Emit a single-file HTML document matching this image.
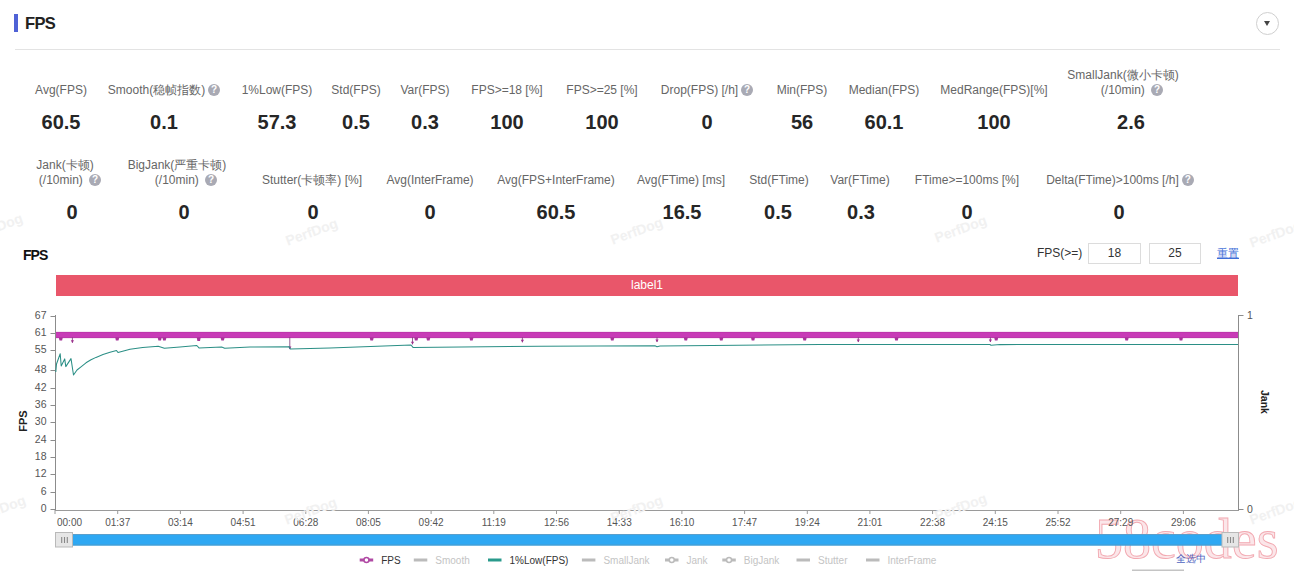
<!DOCTYPE html>
<html><head><meta charset="utf-8">
<style>
html,body{margin:0;padding:0;background:#fff;}
body{width:1294px;height:571px;position:relative;overflow:hidden;font-family:"Liberation Sans",sans-serif;}
.a{position:absolute;white-space:nowrap;}
.lb{position:absolute;white-space:nowrap;font-size:12px;line-height:15px;color:#666;width:240px;text-align:center;}
.vl{position:absolute;white-space:nowrap;font-size:20px;line-height:24px;font-weight:bold;color:#262626;width:200px;text-align:center;}
.q{display:inline-block;width:12px;height:12px;border-radius:50%;background:#a9aab4;color:#fff;font-size:10px;line-height:12px;text-align:center;font-weight:bold;vertical-align:1px;margin-left:3px;}
</style></head><body>

<!-- header -->
<div class="a" style="left:14px;top:14px;width:4px;height:18px;background:#4f62d6;"></div>
<div class="a" style="left:25px;top:12px;font-size:16.5px;line-height:22px;font-weight:bold;color:#222;letter-spacing:-0.7px;">FPS</div>
<div class="a" style="left:1256px;top:12px;width:21px;height:21px;border:1px solid #cfcfcf;border-radius:50%;"></div>
<div class="a" style="left:1264px;top:21px;width:0;height:0;border-left:3.5px solid transparent;border-right:3.5px solid transparent;border-top:5px solid #444;"></div>
<div class="a" style="left:15px;top:49px;width:1265px;height:1px;background:#e3e3e3;"></div>

<!-- row 1 labels -->
<div class="lb" style="left:-59px;top:83px;">Avg(FPS)</div>
<div class="lb" style="left:44px;top:83px;">Smooth(稳帧指数)<span class="q">?</span></div>
<div class="lb" style="left:157px;top:83px;">1%Low(FPS)</div>
<div class="lb" style="left:236px;top:83px;">Std(FPS)</div>
<div class="lb" style="left:305px;top:83px;">Var(FPS)</div>
<div class="lb" style="left:387px;top:83px;">FPS&gt;=18 [%]</div>
<div class="lb" style="left:482px;top:83px;">FPS&gt;=25 [%]</div>
<div class="lb" style="left:587px;top:83px;">Drop(FPS) [/h]<span class="q">?</span></div>
<div class="lb" style="left:682px;top:83px;">Min(FPS)</div>
<div class="lb" style="left:764px;top:83px;">Median(FPS)</div>
<div class="lb" style="left:874px;top:83px;">MedRange(FPS)[%]</div>
<div class="lb" style="left:1003px;top:68px;">SmallJank(微小卡顿)</div>
<div class="lb" style="left:1012px;top:83px;">(/10min) <span class="q">?</span></div>

<!-- row 1 values -->
<div class="vl" style="left:-39px;top:110px;">60.5</div>
<div class="vl" style="left:64px;top:110px;">0.1</div>
<div class="vl" style="left:177px;top:110px;">57.3</div>
<div class="vl" style="left:256px;top:110px;">0.5</div>
<div class="vl" style="left:325px;top:110px;">0.3</div>
<div class="vl" style="left:407px;top:110px;">100</div>
<div class="vl" style="left:502px;top:110px;">100</div>
<div class="vl" style="left:607px;top:110px;">0</div>
<div class="vl" style="left:702px;top:110px;">56</div>
<div class="vl" style="left:784px;top:110px;">60.1</div>
<div class="vl" style="left:894px;top:110px;">100</div>
<div class="vl" style="left:1031px;top:110px;">2.6</div>

<!-- row 2 labels -->
<div class="lb" style="left:-55px;top:158px;">Jank(卡顿)</div>
<div class="lb" style="left:-50px;top:173px;">(/10min) <span class="q">?</span></div>
<div class="lb" style="left:57px;top:158px;">BigJank(严重卡顿)</div>
<div class="lb" style="left:66px;top:173px;">(/10min) <span class="q">?</span></div>
<div class="lb" style="left:192px;top:173px;">Stutter(卡顿率) [%]</div>
<div class="lb" style="left:310px;top:173px;">Avg(InterFrame)</div>
<div class="lb" style="left:436px;top:173px;">Avg(FPS+InterFrame)</div>
<div class="lb" style="left:561px;top:173px;">Avg(FTime) [ms]</div>
<div class="lb" style="left:659px;top:173px;">Std(FTime)</div>
<div class="lb" style="left:740px;top:173px;">Var(FTime)</div>
<div class="lb" style="left:847px;top:173px;">FTime&gt;=100ms [%]</div>
<div class="lb" style="left:1000px;top:173px;">Delta(FTime)&gt;100ms [/h]<span class="q">?</span></div>

<!-- row 2 values -->
<div class="vl" style="left:-28px;top:200px;">0</div>
<div class="vl" style="left:84px;top:200px;">0</div>
<div class="vl" style="left:213px;top:200px;">0</div>
<div class="vl" style="left:330px;top:200px;">0</div>
<div class="vl" style="left:456px;top:200px;">60.5</div>
<div class="vl" style="left:582px;top:200px;">16.5</div>
<div class="vl" style="left:678px;top:200px;">0.5</div>
<div class="vl" style="left:761px;top:200px;">0.3</div>
<div class="vl" style="left:867px;top:200px;">0</div>
<div class="vl" style="left:1019px;top:200px;">0</div>

<!-- chart header -->
<div class="a" style="left:23px;top:245.5px;font-size:14px;line-height:18px;font-weight:bold;color:#111;letter-spacing:-1px;">FPS</div>
<div class="a" style="left:1037px;top:246px;font-size:12px;line-height:15px;color:#333;">FPS(&gt;=)</div>
<div class="a" style="left:1088px;top:243px;width:51px;height:19px;border:1px solid #dcdcdc;font-size:12px;line-height:19px;text-align:center;color:#333;">18</div>
<div class="a" style="left:1149px;top:243px;width:50px;height:19px;border:1px solid #dcdcdc;font-size:12px;line-height:19px;text-align:center;color:#333;">25</div>
<div class="a" style="left:1217px;top:246px;font-size:10.5px;line-height:15px;color:#3f6fd8;text-decoration:underline;">重置</div>

<!-- label bar -->
<div class="a" style="left:56px;top:275px;width:1182px;height:21px;background:#e9566a;color:#fff;font-size:12px;line-height:21px;text-align:center;">label1</div>

<svg class="a" style="left:0;top:0" width="1294" height="571" viewBox="0 0 1294 571" font-family="Liberation Sans, sans-serif">
<text x="1095" y="557.5" font-size="56" font-family="Liberation Serif, serif" fill="#fbe6e9" stroke="#f2a9b1" stroke-width="0.9">58codes</text>
<line x1="55.5" y1="315" x2="55.5" y2="510" stroke="#8c8c8c" stroke-width="1"/>
<line x1="1238.5" y1="315" x2="1238.5" y2="510" stroke="#8c8c8c" stroke-width="1"/>
<line x1="55" y1="510.5" x2="1239" y2="510.5" stroke="#9a9a9a" stroke-width="1"/>
<line x1="50.5" y1="509.5" x2="55.5" y2="509.5" stroke="#8c8c8c"/>
<text x="46.5" y="512.3" font-size="10.5" fill="#555" text-anchor="end">0</text>
<line x1="50.5" y1="492.5" x2="55.5" y2="492.5" stroke="#8c8c8c"/>
<text x="46.5" y="495.3" font-size="10.5" fill="#555" text-anchor="end">6</text>
<line x1="50.5" y1="474.5" x2="55.5" y2="474.5" stroke="#8c8c8c"/>
<text x="46.5" y="477.3" font-size="10.5" fill="#555" text-anchor="end">12</text>
<line x1="50.5" y1="457.5" x2="55.5" y2="457.5" stroke="#8c8c8c"/>
<text x="46.5" y="460.3" font-size="10.5" fill="#555" text-anchor="end">18</text>
<line x1="50.5" y1="440.5" x2="55.5" y2="440.5" stroke="#8c8c8c"/>
<text x="46.5" y="443.3" font-size="10.5" fill="#555" text-anchor="end">24</text>
<line x1="50.5" y1="422.5" x2="55.5" y2="422.5" stroke="#8c8c8c"/>
<text x="46.5" y="425.3" font-size="10.5" fill="#555" text-anchor="end">30</text>
<line x1="50.5" y1="405.5" x2="55.5" y2="405.5" stroke="#8c8c8c"/>
<text x="46.5" y="408.3" font-size="10.5" fill="#555" text-anchor="end">36</text>
<line x1="50.5" y1="388.5" x2="55.5" y2="388.5" stroke="#8c8c8c"/>
<text x="46.5" y="391.3" font-size="10.5" fill="#555" text-anchor="end">42</text>
<line x1="50.5" y1="370.5" x2="55.5" y2="370.5" stroke="#8c8c8c"/>
<text x="46.5" y="373.3" font-size="10.5" fill="#555" text-anchor="end">48</text>
<line x1="50.5" y1="350.5" x2="55.5" y2="350.5" stroke="#8c8c8c"/>
<text x="46.5" y="353.3" font-size="10.5" fill="#555" text-anchor="end">55</text>
<line x1="50.5" y1="333.5" x2="55.5" y2="333.5" stroke="#8c8c8c"/>
<text x="46.5" y="336.3" font-size="10.5" fill="#555" text-anchor="end">61</text>
<line x1="50.5" y1="316.5" x2="55.5" y2="316.5" stroke="#8c8c8c"/>
<text x="46.5" y="319.3" font-size="10.5" fill="#555" text-anchor="end">67</text>
<line x1="1238.5" y1="315.5" x2="1243.5" y2="315.5" stroke="#8c8c8c"/>
<text x="1247" y="319.1" font-size="10.5" fill="#555">1</text>
<line x1="1238.5" y1="509.5" x2="1243.5" y2="509.5" stroke="#8c8c8c"/>
<text x="1247" y="513.1" font-size="10.5" fill="#555">0</text>
<text transform="translate(26.5,421) rotate(-90)" font-size="11" font-weight="bold" fill="#222" text-anchor="middle">FPS</text>
<text transform="translate(1261,402) rotate(90)" font-size="10.5" font-weight="bold" fill="#222" text-anchor="middle">Jank</text>
<line x1="55.0" y1="510" x2="55.0" y2="514" stroke="#9a9a9a"/>
<text x="57" y="525.5" font-size="10" fill="#555">00:00</text>
<line x1="117.7" y1="510" x2="117.7" y2="514" stroke="#9a9a9a"/>
<text x="117.7" y="525.5" font-size="10" fill="#555" text-anchor="middle">01:37</text>
<line x1="180.4" y1="510" x2="180.4" y2="514" stroke="#9a9a9a"/>
<text x="180.4" y="525.5" font-size="10" fill="#555" text-anchor="middle">03:14</text>
<line x1="243.1" y1="510" x2="243.1" y2="514" stroke="#9a9a9a"/>
<text x="243.1" y="525.5" font-size="10" fill="#555" text-anchor="middle">04:51</text>
<line x1="305.8" y1="510" x2="305.8" y2="514" stroke="#9a9a9a"/>
<text x="305.8" y="525.5" font-size="10" fill="#555" text-anchor="middle">06:28</text>
<line x1="368.4" y1="510" x2="368.4" y2="514" stroke="#9a9a9a"/>
<text x="368.4" y="525.5" font-size="10" fill="#555" text-anchor="middle">08:05</text>
<line x1="431.1" y1="510" x2="431.1" y2="514" stroke="#9a9a9a"/>
<text x="431.1" y="525.5" font-size="10" fill="#555" text-anchor="middle">09:42</text>
<line x1="493.8" y1="510" x2="493.8" y2="514" stroke="#9a9a9a"/>
<text x="493.8" y="525.5" font-size="10" fill="#555" text-anchor="middle">11:19</text>
<line x1="556.5" y1="510" x2="556.5" y2="514" stroke="#9a9a9a"/>
<text x="556.5" y="525.5" font-size="10" fill="#555" text-anchor="middle">12:56</text>
<line x1="619.2" y1="510" x2="619.2" y2="514" stroke="#9a9a9a"/>
<text x="619.2" y="525.5" font-size="10" fill="#555" text-anchor="middle">14:33</text>
<line x1="681.9" y1="510" x2="681.9" y2="514" stroke="#9a9a9a"/>
<text x="681.9" y="525.5" font-size="10" fill="#555" text-anchor="middle">16:10</text>
<line x1="744.6" y1="510" x2="744.6" y2="514" stroke="#9a9a9a"/>
<text x="744.6" y="525.5" font-size="10" fill="#555" text-anchor="middle">17:47</text>
<line x1="807.3" y1="510" x2="807.3" y2="514" stroke="#9a9a9a"/>
<text x="807.3" y="525.5" font-size="10" fill="#555" text-anchor="middle">19:24</text>
<line x1="869.9" y1="510" x2="869.9" y2="514" stroke="#9a9a9a"/>
<text x="869.9" y="525.5" font-size="10" fill="#555" text-anchor="middle">21:01</text>
<line x1="932.6" y1="510" x2="932.6" y2="514" stroke="#9a9a9a"/>
<text x="932.6" y="525.5" font-size="10" fill="#555" text-anchor="middle">22:38</text>
<line x1="995.3" y1="510" x2="995.3" y2="514" stroke="#9a9a9a"/>
<text x="995.3" y="525.5" font-size="10" fill="#555" text-anchor="middle">24:15</text>
<line x1="1058.0" y1="510" x2="1058.0" y2="514" stroke="#9a9a9a"/>
<text x="1058.0" y="525.5" font-size="10" fill="#555" text-anchor="middle">25:52</text>
<line x1="1120.7" y1="510" x2="1120.7" y2="514" stroke="#9a9a9a"/>
<text x="1120.7" y="525.5" font-size="10" fill="#555" text-anchor="middle">27:29</text>
<line x1="1183.4" y1="510" x2="1183.4" y2="514" stroke="#9a9a9a"/>
<text x="1183.4" y="525.5" font-size="10" fill="#555" text-anchor="middle">29:06</text>
<text transform="translate(312,233) rotate(-20)" font-size="14" font-weight="bold" fill="#f1f1f1" text-anchor="middle" dominant-baseline="middle">PerfDog</text>
<text transform="translate(637,232) rotate(-20)" font-size="14" font-weight="bold" fill="#f1f1f1" text-anchor="middle" dominant-baseline="middle">PerfDog</text>
<text transform="translate(961,230) rotate(-20)" font-size="14" font-weight="bold" fill="#f1f1f1" text-anchor="middle" dominant-baseline="middle">PerfDog</text>
<text transform="translate(1276,235) rotate(-20)" font-size="14" font-weight="bold" fill="#f1f1f1" text-anchor="middle" dominant-baseline="middle">PerfDog</text>
<text transform="translate(-3,228) rotate(-20)" font-size="14" font-weight="bold" fill="#f1f1f1" text-anchor="middle" dominant-baseline="middle">PerfDog</text>
<text transform="translate(311,512) rotate(-20)" font-size="14" font-weight="bold" fill="#f1f1f1" text-anchor="middle" dominant-baseline="middle">PerfDog</text>
<text transform="translate(637,510) rotate(-20)" font-size="14" font-weight="bold" fill="#f1f1f1" text-anchor="middle" dominant-baseline="middle">PerfDog</text>
<text transform="translate(961,508) rotate(-20)" font-size="14" font-weight="bold" fill="#f1f1f1" text-anchor="middle" dominant-baseline="middle">PerfDog</text>
<text transform="translate(1276,512) rotate(-20)" font-size="14" font-weight="bold" fill="#f1f1f1" text-anchor="middle" dominant-baseline="middle">PerfDog</text>
<text transform="translate(0,510) rotate(-20)" font-size="14" font-weight="bold" fill="#f1f1f1" text-anchor="middle" dominant-baseline="middle">PerfDog</text>
<rect x="56" y="332" width="1182" height="6" fill="#c83bb7"/>
<line x1="56" y1="332.3" x2="1238" y2="332.3" stroke="#b2349f" stroke-width="0.6"/>
<line x1="56" y1="337.7" x2="1238" y2="337.7" stroke="#b2349f" stroke-width="0.6"/>
<path d="M58.8,337.5 L62.8,337.5 L62.099999999999994,340.5 L59.5,340.5 Z" fill="#a8359a"/>
<line x1="72.4" y1="337" x2="72.4" y2="342.8" stroke="#8a4a86" stroke-width="0.9"/>
<path d="M70.80000000000001,340.3 L74.0,340.3 L72.4,343.1 Z" fill="#9c2f8c"/>
<path d="M115.2,337.5 L119.2,337.5 L118.5,340.5 L115.9,340.5 Z" fill="#a8359a"/>
<path d="M157.7,337.5 L161.7,337.5 L161.0,340.5 L158.39999999999998,340.5 Z" fill="#a8359a"/>
<path d="M162.4,337.5 L166.4,337.5 L165.70000000000002,340.5 L163.1,340.5 Z" fill="#a8359a"/>
<path d="M196.7,337.5 L200.7,337.5 L200.0,341 L197.39999999999998,341 Z" fill="#a8359a"/>
<path d="M220.6,337.5 L224.6,337.5 L223.9,340.5 L221.29999999999998,340.5 Z" fill="#a8359a"/>
<line x1="289.8" y1="337" x2="289.8" y2="349" stroke="#8a4a86" stroke-width="0.9"/>
<path d="M288.2,346.5 L291.40000000000003,346.5 L289.8,349.3 Z" fill="#9c2f8c"/>
<path d="M369.7,337.5 L373.7,337.5 L373.0,340.5 L370.4,340.5 Z" fill="#a8359a"/>
<line x1="412.5" y1="337" x2="412.5" y2="344.3" stroke="#8a4a86" stroke-width="0.9"/>
<path d="M410.9,341.8 L414.1,341.8 L412.5,344.6 Z" fill="#9c2f8c"/>
<path d="M414.2,337.5 L418.2,337.5 L417.5,340.5 L414.9,340.5 Z" fill="#a8359a"/>
<path d="M426.3,337.5 L430.3,337.5 L429.6,340.5 L427.0,340.5 Z" fill="#a8359a"/>
<path d="M469.4,337.5 L473.4,337.5 L472.7,340.5 L470.09999999999997,340.5 Z" fill="#a8359a"/>
<line x1="522.4" y1="337" x2="522.4" y2="342.3" stroke="#8a4a86" stroke-width="0.9"/>
<path d="M520.8,339.8 L524.0,339.8 L522.4,342.6 Z" fill="#9c2f8c"/>
<path d="M610.3,337.5 L614.3,337.5 L613.5999999999999,340.5 L611.0,340.5 Z" fill="#a8359a"/>
<line x1="657" y1="337" x2="657" y2="342" stroke="#8a4a86" stroke-width="0.9"/>
<path d="M655.4,339.5 L658.6,339.5 L657,342.3 Z" fill="#9c2f8c"/>
<path d="M683.8,337.5 L687.8,337.5 L687.0999999999999,340.5 L684.5,340.5 Z" fill="#a8359a"/>
<path d="M719.3,337.5 L723.3,337.5 L722.5999999999999,340.5 L720.0,340.5 Z" fill="#a8359a"/>
<path d="M751,337.5 L755,337.5 L754.3,340.5 L751.7,340.5 Z" fill="#a8359a"/>
<path d="M802.7,337.5 L806.7,337.5 L806.0,340.5 L803.4000000000001,340.5 Z" fill="#a8359a"/>
<line x1="858.3" y1="337" x2="858.3" y2="342" stroke="#8a4a86" stroke-width="0.9"/>
<path d="M856.6999999999999,339.5 L859.9,339.5 L858.3,342.3 Z" fill="#9c2f8c"/>
<path d="M894.5,337.5 L898.5,337.5 L897.8,340.5 L895.2,340.5 Z" fill="#a8359a"/>
<line x1="990.4" y1="337" x2="990.4" y2="342" stroke="#8a4a86" stroke-width="0.9"/>
<path d="M988.8,339.5 L992.0,339.5 L990.4,342.3 Z" fill="#9c2f8c"/>
<path d="M994.2,337.5 L998.2,337.5 L997.5,340.5 L994.9000000000001,340.5 Z" fill="#a8359a"/>
<path d="M1124.7,337.5 L1128.7,337.5 L1128.0,340.5 L1125.4,340.5 Z" fill="#a8359a"/>
<path d="M1179,337.5 L1183,337.5 L1182.3,340.5 L1179.7,340.5 Z" fill="#a8359a"/>
<path d="M55.8,372 L56.5,364 L60.2,353.8 L61.2,366 L64.7,358.9 L65.8,366.6 L71,358.6 L73.5,375 L77,370 L81,366.8 L86,362.8 L91,359.8 L96,357.4 L103,354.6 L110,352.3 L116.5,350.5 L118,352.5 L130,349.3 L142.7,347.5 L158.2,346.3 L164.4,348.3 L180,347 L196.8,345.5 L199,347.9 L221.6,347 L224.7,348.3 L250,347 L289.3,346.7 L290.3,349 L330,348 L411,345 L413,347.4 L540,346.2 L655,345.8 L657,346.7 L660,346 L820,344.5 L990,344.5 L991,345.3 L1000,344.6 L1238,344.5" fill="none" stroke="#2b8f86" stroke-width="1.05" stroke-linejoin="round"/>
<rect x="72" y="534" width="1151" height="11.5" fill="#2ea8f3"/><rect x="72" y="534" width="1151" height="1" fill="#5a9fcc"/><rect x="72" y="544.5" width="1151" height="1" fill="#4a9ccc"/>
<rect x="55.5" y="532.5" width="17" height="14.5" fill="#e6e6e6" stroke="#b9b9b9"/>
<rect x="1222" y="532.5" width="16.5" height="14.5" fill="#e6e6e6" stroke="#b9b9b9"/>
<line x1="61.7" y1="537" x2="61.7" y2="543" stroke="#888" stroke-width="1.1"/>
<line x1="64.5" y1="537" x2="64.5" y2="543" stroke="#888" stroke-width="1.1"/>
<line x1="67.3" y1="537" x2="67.3" y2="543" stroke="#888" stroke-width="1.1"/>
<line x1="1227.7" y1="537" x2="1227.7" y2="543" stroke="#888" stroke-width="1.1"/>
<line x1="1230.5" y1="537" x2="1230.5" y2="543" stroke="#888" stroke-width="1.1"/>
<line x1="1233.3" y1="537" x2="1233.3" y2="543" stroke="#888" stroke-width="1.1"/>
<line x1="359.7" y1="560" x2="373.2" y2="560" stroke="#b04aa4" stroke-width="3"/>
<circle cx="366.45" cy="560" r="2.5" fill="#fff" stroke="#b04aa4" stroke-width="1.5"/>
<text x="381.2" y="563.8" font-size="10" fill="#333">FPS</text>
<line x1="413.8" y1="560" x2="427.3" y2="560" stroke="#bbb" stroke-width="3"/>
<text x="435.3" y="563.8" font-size="10" fill="#c4c4c4">Smooth</text>
<line x1="488" y1="560" x2="501.5" y2="560" stroke="#2a9a8c" stroke-width="3"/>
<text x="509.5" y="563.8" font-size="10" fill="#333">1%Low(FPS)</text>
<line x1="581.9" y1="560" x2="595.4" y2="560" stroke="#bbb" stroke-width="3"/>
<text x="603.4" y="563.8" font-size="10" fill="#c4c4c4">SmallJank</text>
<line x1="665" y1="560" x2="678.5" y2="560" stroke="#bbb" stroke-width="3"/>
<circle cx="671.75" cy="560" r="2.5" fill="#fff" stroke="#bbb" stroke-width="1.5"/>
<text x="686.5" y="563.8" font-size="10" fill="#c4c4c4">Jank</text>
<line x1="722.3" y1="560" x2="735.8" y2="560" stroke="#bbb" stroke-width="3"/>
<circle cx="729.05" cy="560" r="2.5" fill="#fff" stroke="#bbb" stroke-width="1.5"/>
<text x="743.8" y="563.8" font-size="10" fill="#c4c4c4">BigJank</text>
<line x1="796.5" y1="560" x2="810.0" y2="560" stroke="#bbb" stroke-width="3"/>
<text x="818.0" y="563.8" font-size="10" fill="#c4c4c4">Stutter</text>
<line x1="866" y1="560" x2="879.5" y2="560" stroke="#bbb" stroke-width="3"/>
<text x="887.5" y="563.8" font-size="10" fill="#c4c4c4">InterFrame</text>
<text x="1176" y="562" font-size="10" fill="#4d62c0">全选中</text>
<rect x="1132" y="569.5" width="52" height="1.5" fill="#c4c4c4"/>
</svg>

</body></html>
